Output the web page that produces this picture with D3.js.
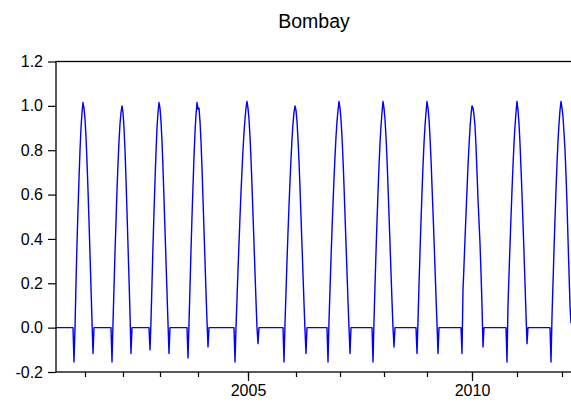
<!DOCTYPE html>
<html>
<head>
<meta charset="utf-8">
<script src="https://cdn.jsdelivr.net/npm/d3@7/dist/d3.min.js"></script>
<style>
  html, body { margin: 0; padding: 0; background: #fff; }
  svg { display: block; }
  text { font-family: "Liberation Sans", Arial, sans-serif; fill: #000; }
</style>
</head>
<body>
<svg id="chart" width="571" height="404"></svg>
<script>
const title = "Bombay";

// Calendar years with a tick; only some carry a label
const years = [2001, 2002, 2003, 2004, 2005, 2006, 2007, 2008, 2009, 2010, 2011, 2012];
const labelledYears = [2005, 2010];

// Number of observations in each year of the sample (2000 tail ... 2012 head)
const obsPerYear = [29, 38, 37, 38, 50, 48, 44, 44, 43, 45, 45, 45, 10];

// First in-season observation, relative to the first observation of each year
const seasonOnset = [-11, -11, -10, -10, -13, -12, -12, -11, -10, -10, -10, -11];

// Consecutive in-season values for each year (outside the season the series is 0)
const seasonValues = [
  [-0.155, 0.0, 0.2, 0.38, 0.53, 0.67, 0.8, 0.9, 0.97, 1.015, 0.99, 0.94, 0.86, 0.75, 0.62, 0.48, 0.33, 0.18, 0.03, -0.117],
  [-0.155, 0.02, 0.18, 0.34, 0.48, 0.62, 0.74, 0.84, 0.92, 0.97, 1.0, 0.97, 0.9, 0.8, 0.67, 0.52, 0.37, 0.22, 0.06, -0.117],
  [-0.10, 0.03, 0.2, 0.37, 0.52, 0.66, 0.79, 0.9, 0.97, 1.015, 0.99, 0.93, 0.84, 0.72, 0.58, 0.44, 0.3, 0.16, 0.02, -0.117],
  [-0.137, 0.02, 0.18, 0.35, 0.5, 0.64, 0.77, 0.88, 0.96, 1.015, 0.985, 0.99, 0.93, 0.84, 0.72, 0.58, 0.44, 0.3, 0.16, 0.03, -0.087],
  [-0.155, 0.0, 0.13, 0.26, 0.38, 0.5, 0.61, 0.71, 0.8, 0.88, 0.94, 0.99, 1.02, 0.99, 0.94, 0.86, 0.76, 0.64, 0.51, 0.38, 0.25, 0.12, 0.0, -0.072],
  [-0.155, 0.02, 0.16, 0.3, 0.43, 0.55, 0.66, 0.76, 0.85, 0.92, 0.97, 1.0, 0.98, 0.93, 0.85, 0.75, 0.63, 0.5, 0.37, 0.24, 0.11, -0.01, -0.117],
  [-0.155, 0.03, 0.17, 0.31, 0.44, 0.56, 0.67, 0.77, 0.86, 0.93, 0.98, 1.02, 0.99, 0.94, 0.86, 0.76, 0.64, 0.51, 0.38, 0.25, 0.12, 0.0, -0.117],
  [-0.155, 0.03, 0.19, 0.34, 0.48, 0.61, 0.73, 0.83, 0.91, 0.97, 1.02, 0.99, 0.94, 0.86, 0.76, 0.64, 0.51, 0.38, 0.25, 0.12, 0.0, -0.087],
  [-0.117, 0.03, 0.19, 0.34, 0.48, 0.61, 0.73, 0.83, 0.91, 0.97, 1.02, 0.99, 0.94, 0.86, 0.76, 0.64, 0.52, 0.4, 0.27, 0.14, 0.02, -0.117],
  [-0.117, 0.17, 0.28, 0.4, 0.51, 0.62, 0.73, 0.82, 0.9, 0.96, 1.0, 0.99, 0.96, 0.91, 0.82, 0.7, 0.58, 0.48, 0.38, 0.25, 0.1, -0.087],
  [-0.155, 0.1, 0.24, 0.37, 0.5, 0.62, 0.73, 0.83, 0.91, 0.97, 1.02, 0.98, 0.92, 0.83, 0.72, 0.6, 0.47, 0.34, 0.2, 0.06, -0.072],
  [-0.155, 0.05, 0.2, 0.35, 0.49, 0.62, 0.74, 0.84, 0.92, 0.98, 1.02, 0.99, 0.95, 0.88, 0.8, 0.69, 0.56, 0.4, 0.25, 0.1, 0.02]
];

const yTicks = [-0.2, 0.0, 0.2, 0.4, 0.6, 0.8, 1.0, 1.2];
const yDomain = [-0.2, 1.2];

// ---- assemble the observation series ----
const yearStart = [];            // first observation of each year in `years`
let acc = 0;
obsPerYear.forEach((n, i) => { if (i > 0) yearStart.push(acc); acc += n; });
const totalObs = acc;

const series = d3.range(totalObs).map(i => ({ obs: i, value: 0 }));
years.forEach((yr, i) => {
  const s = yearStart[i] + seasonOnset[i];
  seasonValues[i].forEach((v, j) => {
    if (s + j < totalObs) series[s + j].value = v;
  });
});

// ---- layout ----
const svg = d3.select("#chart");
const plot = { left: 56, top: 61.5, right: 572, bottom: 372 };

const x = d3.scaleLinear().domain([0, totalObs]).range([plot.left, plot.right]);
const y = d3.scaleLinear().domain(yDomain).range([plot.bottom, plot.top]);

svg.append("defs").append("clipPath").attr("id", "plotClip")
  .append("rect")
  .attr("x", plot.left).attr("y", plot.top - 2)
  .attr("width", plot.right - plot.left).attr("height", plot.bottom - plot.top + 4);

// Title
svg.append("text")
  .attr("x", (plot.left + plot.right) / 2)
  .attr("y", 28)
  .attr("text-anchor", "middle")
  .style("font-size", "19.5px")
  .text(title);

// Y axis
const yAxis = d3.axisLeft(y)
  .tickValues(yTicks)
  .tickFormat(d => d.toFixed(1))
  .tickSize(8)
  .tickPadding(5);
const gy = svg.append("g").attr("transform", `translate(${plot.left},0)`).call(yAxis);
gy.select(".domain").remove();
gy.selectAll("line").attr("stroke", "#000").attr("stroke-width", 1.2);
gy.selectAll("text").style("font-size", "16px");

// X axis: a short tick for every year, long labelled ticks for selected years
const yearPos = years.map((yr, i) => yearStart[i]);
const minorAxis = d3.axisBottom(x).tickValues(yearPos).tickSize(5).tickFormat("");
const gx = svg.append("g").attr("transform", `translate(0,${plot.bottom})`).call(minorAxis);
gx.select(".domain").remove();
gx.selectAll("line").attr("stroke", "#000").attr("stroke-width", 1.2);

const majorPos = labelledYears.map(yr => yearStart[years.indexOf(yr)]);
const majorAxis = d3.axisBottom(x)
  .tickValues(majorPos)
  .tickSize(9)
  .tickPadding(4)
  .tickFormat(p => years[yearStart.indexOf(p)]);
const gx2 = svg.append("g").attr("transform", `translate(0,${plot.bottom})`).call(majorAxis);
gx2.select(".domain").remove();
gx2.selectAll("line").attr("stroke", "#000").attr("stroke-width", 1.2);
gx2.selectAll("text").style("font-size", "16px");

// Frame
svg.append("rect")
  .attr("x", plot.left).attr("y", plot.top)
  .attr("width", plot.right - plot.left).attr("height", plot.bottom - plot.top)
  .attr("fill", "none").attr("stroke", "#000").attr("stroke-width", 1.3);

// Series line
const line = d3.line().x(d => x(d.obs)).y(d => y(d.value));
svg.append("path")
  .datum(series)
  .attr("clip-path", "url(#plotClip)")
  .attr("fill", "none")
  .attr("stroke", "#0000ff")
  .attr("stroke-width", 1.4)
  .attr("stroke-linejoin", "round")
  .attr("d", line);
</script>
</body>
</html>
